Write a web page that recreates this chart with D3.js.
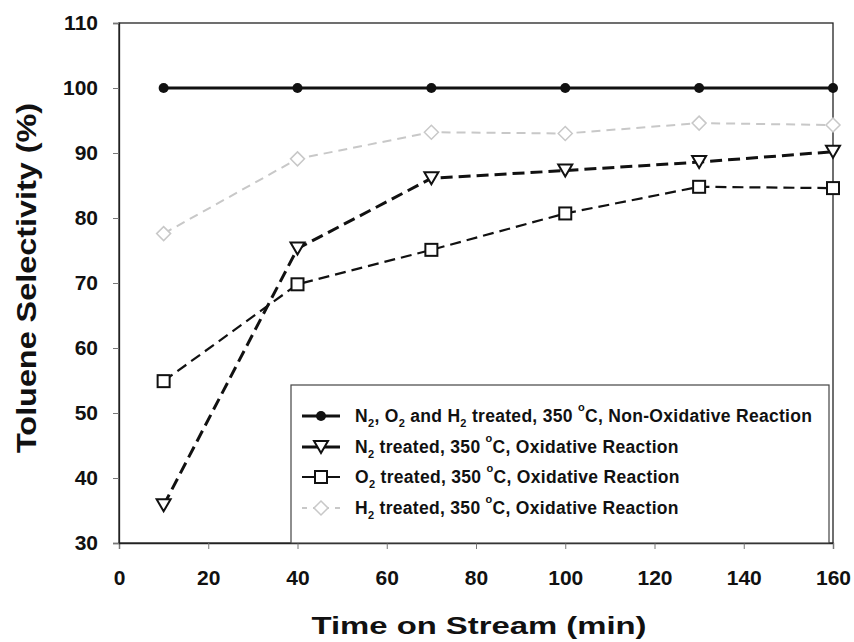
<!DOCTYPE html>
<html><head><meta charset="utf-8">
<script src="https://cdn.jsdelivr.net/npm/d3@7"></script>
<style>body{margin:0;background:#fff}svg{display:block;font-family:"Liberation Sans",Arial,sans-serif}</style>
</head><body>
<svg id="c" width="854" height="642"></svg>
<script>
const times = [10, 40, 70, 100, 130, 160];
const allTreatedNonOx = [100, 100, 100, 100, 100, 100];
const n2Ox = [35.8, 75.3, 86.1, 87.3, 88.6, 90.2];
const o2Ox = [54.9, 69.8, 75.1, 80.7, 84.8, 84.6];
const h2Ox = [77.6, 89.1, 93.2, 93.0, 94.6, 94.3];
const xTicks = [0, 20, 40, 60, 80, 100, 120, 140, 160];
const yTicks = [30, 40, 50, 60, 70, 80, 90, 100, 110];

const svg = d3.select("#c");
const L = 119, R = 833, T = 23, B = 543;
const x = d3.scaleLinear().domain([0, 160]).range([L, R]);
const y = d3.scaleLinear().domain([30, 110]).range([B, T]);

// frame
svg.append("rect").attr("x", L).attr("y", T).attr("width", R - L).attr("height", B - T)
  .attr("fill", "none").attr("stroke", "#222").attr("stroke-width", 1.3);

const xAxis = svg.append("g").attr("transform", `translate(0,${B})`)
  .call(d3.axisBottom(x).tickValues(xTicks).tickSize(6).tickPadding(21));
const yAxis = svg.append("g").attr("transform", `translate(${L},0)`)
  .call(d3.axisLeft(y).tickValues(yTicks).tickSize(6).tickPadding(15));
[xAxis, yAxis].forEach(a => {
  a.select(".domain").attr("stroke", "#222").attr("stroke-width", 1.3);
  a.selectAll(".tick line").attr("stroke", "#777");
  a.selectAll("text").attr("font-size", 21).attr("font-weight", "bold").attr("fill", "#111")
    .attr("font-family", "'Liberation Sans',Arial,sans-serif");
});

svg.append("text").attr("x", 479).attr("y", 634).attr("text-anchor", "middle")
  .attr("font-size", 24).attr("font-weight", "bold").attr("fill", "#111")
  .attr("textLength", 335).attr("lengthAdjust", "spacingAndGlyphs").text("Time on Stream (min)");
svg.append("text").attr("transform", "translate(36,278) rotate(-90)").attr("text-anchor", "middle")
  .attr("font-size", 28).attr("font-weight", "bold").attr("fill", "#111")
  .attr("textLength", 350).attr("lengthAdjust", "spacingAndGlyphs").text("Toluene Selectivity (%)");

const series = [
  {vals: allTreatedNonOx, color: "#111", width: 3, dash: null, marker: "circle"},
  {vals: n2Ox, color: "#111", width: 3, dash: "12,6", marker: "tri"},
  {vals: o2Ox, color: "#111", width: 2.2, dash: "11,6", marker: "square"},
  {vals: h2Ox, color: "#c8c8c8", width: 2, dash: "9,6", marker: "diamond"}
];

function drawMarker(g, type, cx, cy, color) {
  if (type === "circle") {
    g.append("circle").attr("cx", cx).attr("cy", cy).attr("r", 5).attr("fill", color);
  } else if (type === "tri") {
    g.append("path").attr("d", `M${cx-7},${cy-6}L${cx+7},${cy-6}L${cx},${cy+6}Z`)
      .attr("fill", "#fff").attr("stroke", color).attr("stroke-width", 2);
  } else if (type === "square") {
    g.append("rect").attr("x", cx-6).attr("y", cy-6).attr("width", 12).attr("height", 12)
      .attr("fill", "#fff").attr("stroke", color).attr("stroke-width", 2);
  } else {
    g.append("path").attr("d", `M${cx},${cy-7}L${cx+7},${cy}L${cx},${cy+7}L${cx-7},${cy}Z`)
      .attr("fill", "#fff").attr("stroke", color).attr("stroke-width", 1.5);
  }
}

const line = d3.line().x((d, i) => x(times[i])).y(d => y(d));
const drawOrder = [3, 2, 1, 0];
drawOrder.forEach(k => {
  const s = series[k];
  svg.append("path").attr("d", line(s.vals)).attr("fill", "none").attr("stroke", s.color)
    .attr("stroke-width", s.width).attr("stroke-dasharray", s.dash);
  const g = svg.append("g");
  s.vals.forEach((v, i) => drawMarker(g, s.marker, x(times[i]), y(v), s.color));
});

// legend
const lg = svg.append("g");
lg.append("rect").attr("x", 291).attr("y", 385).attr("width", 538).attr("height", B - 385)
  .attr("fill", "#fff").attr("stroke", "#444").attr("stroke-width", 1.2);
const legendLabels = [
  [["N", ""], ["2", "sub"], [", ", ""], ["O", ""], ["2", "sub"], [" and H", ""], ["2", "sub"], [" treated, 350 ", ""], ["o", "sup"], ["C, Non-Oxidative Reaction", ""]],
  [["N", ""], ["2", "sub"], [" treated, 350 ", ""], ["o", "sup"], ["C, Oxidative Reaction", ""]],
  [["O", ""], ["2", "sub"], [" treated, 350 ", ""], ["o", "sup"], ["C, Oxidative Reaction", ""]],
  [["H", ""], ["2", "sub"], [" treated, 350 ", ""], ["o", "sup"], ["C, Oxidative Reaction", ""]]
];
const rowsY = [416, 447, 477, 508];
series.forEach((s, i) => {
  const yy = rowsY[i];
  lg.append("line").attr("x1", 302).attr("x2", 340).attr("y1", yy).attr("y2", yy)
    .attr("stroke", s.color).attr("stroke-width", s.width).attr("stroke-dasharray", i === 3 ? "5,6" : null);
  drawMarker(lg, s.marker, 321, yy, s.color);
  const t = lg.append("text").attr("x", 355).attr("y", yy + 6).attr("font-size", 17.5)
    .attr("font-weight", "bold").attr("fill", "#111").attr("letter-spacing", 0.3);
  legendLabels[i].forEach(([txt, kind], j) => {
    const prev = j > 0 ? legendLabels[i][j-1][1] : "";
    let dy = 0;
    if (prev === "sub") dy -= 5;
    if (prev === "sup") dy += 11;
    if (kind === "sub") dy += 5;
    if (kind === "sup") dy -= 11;
    const ts = t.append("tspan").text(txt).attr("dy", dy);
    if (kind) ts.attr("font-size", 11);
  });
});
</script>
</body></html>
